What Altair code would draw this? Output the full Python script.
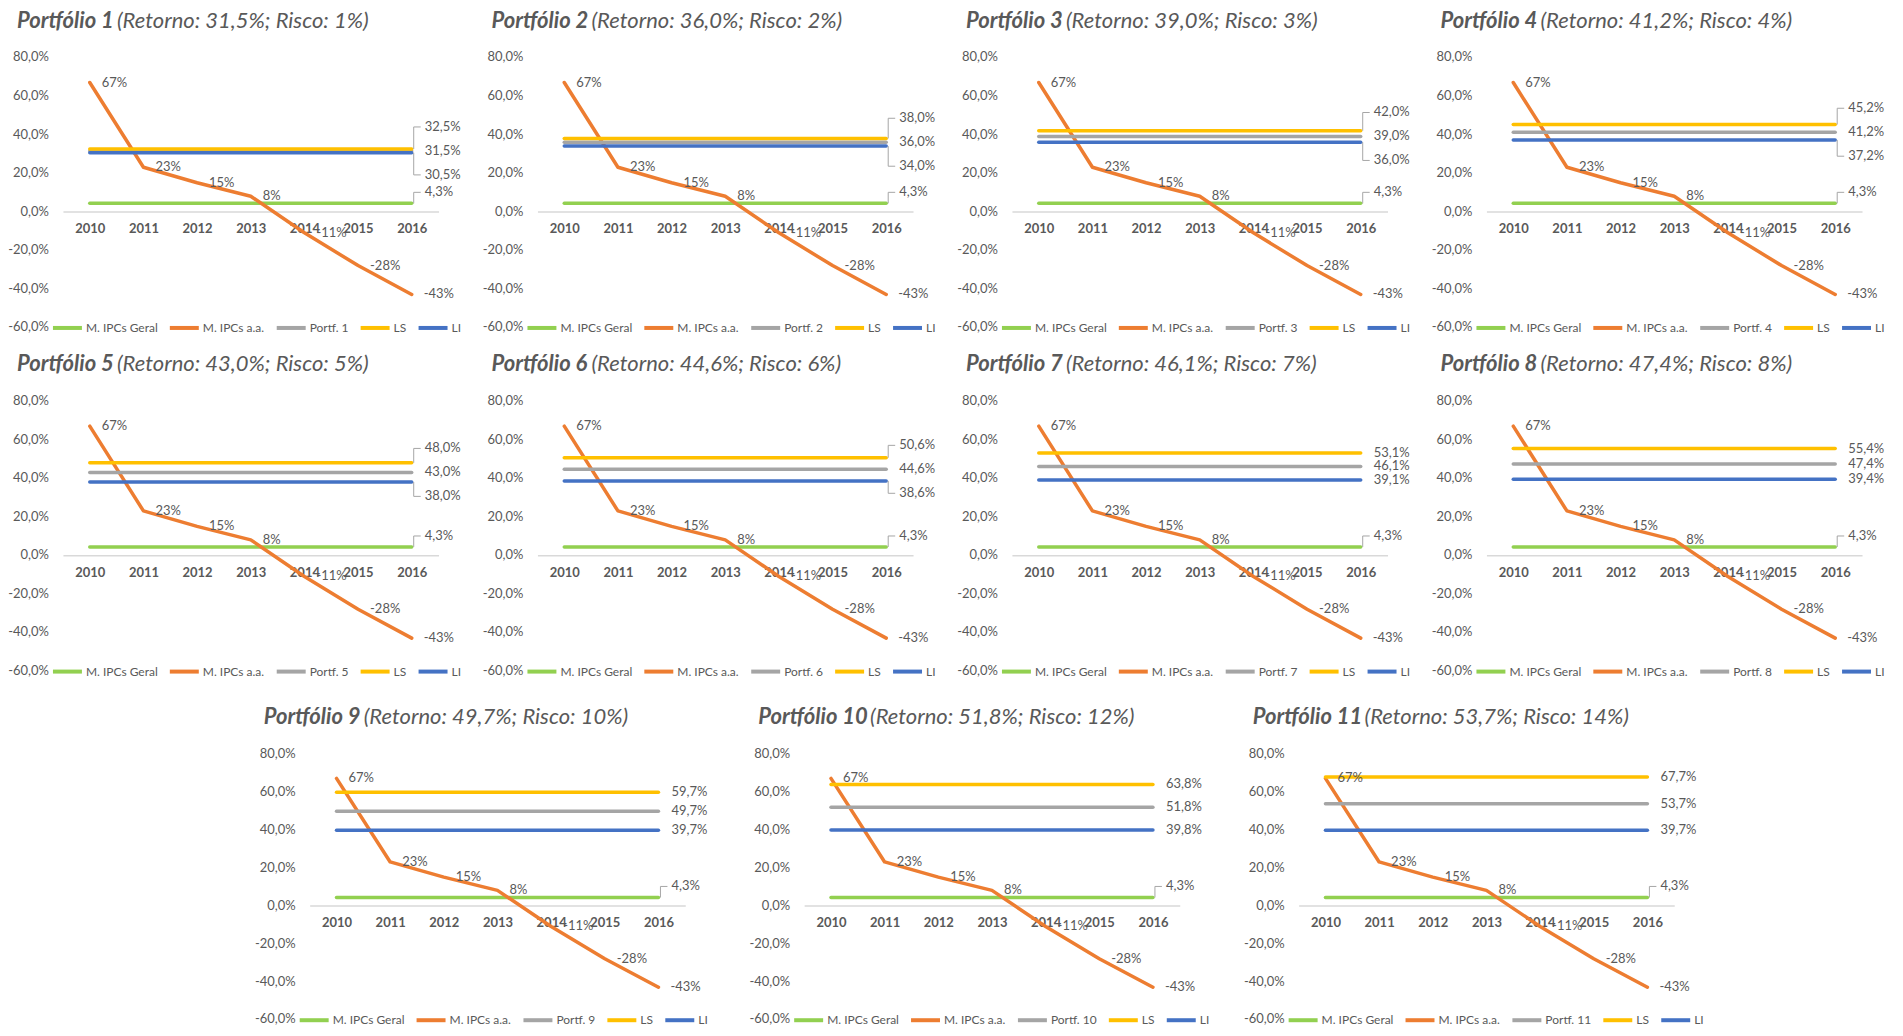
import altair as alt
import pandas as pd

# ---------------- data ----------------
years = ["2010", "2011", "2012", "2013", "2014", "2015", "2016"]
ipcs_aa = [67, 23, 15, 8, -11, -28, -43]
ipcs_geral = 4.3
portfolios = [1, 2, 3, 4, 5, 6, 7, 8, 9, 10, 11]
retornos = [31.5, 36.0, 39.0, 41.2, 43.0, 44.6, 46.1, 47.4, 49.7, 51.8, 53.7]
riscos = [1, 2, 3, 4, 5, 6, 7, 8, 10, 12, 14]
ls_vals = [32.5, 38.0, 42.0, 45.2, 48.0, 50.6, 53.1, 55.4, 59.7, 63.8, 67.7]
li_vals = [30.5, 34.0, 36.0, 37.2, 38.0, 38.6, 39.1, 39.4, 39.7, 39.8, 39.7]
y_ticks = [-60, -40, -20, 0, 20, 40, 60, 80]

# ---------------- style ----------------
COLORS = ["#92D050", "#ED7D31", "#A5A5A5", "#FFC000", "#4472C4"]
FONT = "Lato"
TXT = "#595959"
LEADER = "#A6A6A6"
W = 376
YMIN, YMAX = -60, 80
TITLE_SIZE = 22

BOLD_W = {"P": 0.61, "o": 0.57, "r": 0.39, "t": 0.37, "f": 0.33, "ó": 0.57,
          "l": 0.26, "i": 0.26, " ": 0.19}


def bold_width(s):
    return sum(BOLD_W.get(c, 0.58) for c in s) * TITLE_SIZE * 0.93


def fmt1(v):
    return f"{v:.1f}".replace(".", ",") + "%"


def panel(i, H):
    PX = H / (YMAX - YMIN)
    n = portfolios[i]
    port = f"Portf. {n}"
    names = ["M. IPCs Geral", "M. IPCs a.a.", port, "LS", "LI"]
    consts = [ipcs_geral, None, retornos[i], ls_vals[i], li_vals[i]]

    rows = []
    for k, name in enumerate(names):
        for j, y in enumerate(years):
            v = ipcs_aa[j] if k == 1 else consts[k]
            rows.append({"serie": name, "ano": y, "valor": v, "ordem": k})
    df = pd.DataFrame(rows)

    # orange data labels
    dlab = pd.DataFrame({"ano": years, "valor": ipcs_aa,
                         "texto": [f"{v}%" for v in ipcs_aa]})

    # y tick labels
    ytl = pd.DataFrame({"valor": y_ticks, "texto": [fmt1(v) for v in y_ticks]})

    # right-end labels (spread when lines are too close)
    gap_px = (ls_vals[i] - retornos[i]) * PX
    spread = 24 / PX if gap_px < 12.5 else 0.0
    rl = [
        {"valor": ipcs_geral, "ylab": ipcs_geral + 11 / PX, "texto": fmt1(ipcs_geral), "lead": True},
        {"valor": ls_vals[i], "ylab": retornos[i] + spread if spread else ls_vals[i],
         "texto": fmt1(ls_vals[i]), "lead": bool(spread)},
        {"valor": retornos[i], "ylab": retornos[i], "texto": fmt1(retornos[i]), "lead": False},
        {"valor": li_vals[i], "ylab": retornos[i] - spread if spread else li_vals[i],
         "texto": fmt1(li_vals[i]), "lead": bool(spread)},
    ]
    rlab = pd.DataFrame(rl)
    rlab["ano"] = years[-1]
    leads = rlab[rlab["lead"]].copy()

    yscale = alt.Scale(domain=[YMIN, YMAX], nice=False, zero=False)
    xenc = alt.X("ano:O", scale=alt.Scale(type="point", padding=0.5),
                 axis=alt.Axis(title=None, labelAngle=0, labelFont=FONT, labelFontWeight="bold",
                               labelFontSize=13, labelColor=TXT, ticks=False,
                               domainColor="#D9D9D9", domainWidth=1.5, labelPadding=11,
                               offset=-(0 - YMIN) * PX, grid=False))

    def Y(field):
        return alt.Y(field, scale=yscale, axis=None)

    lines = alt.Chart(df).mark_line(strokeWidth=3.5, strokeCap="round", strokeJoin="round").encode(
        x=xenc, y=Y("valor:Q"),
        color=alt.Color("serie:N", sort=names,
                        scale=alt.Scale(domain=names, range=COLORS),
                        legend=alt.Legend(orient="none", legendX=-12, legendY=H - 16,
                                          direction="horizontal", title=None,
                                          symbolType="stroke", symbolSize=841,
                                          symbolStrokeWidth=4, labelFont=FONT,
                                          labelFontSize=12, labelColor=TXT,
                                          columnPadding=4, labelOffset=2, padding=0)),
        order=alt.Order("ordem:Q"),
        detail="serie:N",
    )

    ylabels = alt.Chart(ytl).mark_text(align="right", baseline="middle", font=FONT,
                                       fontSize=13, color=TXT).encode(
        x=alt.value(-14), y=Y("valor:Q"), text="texto:N")

    olabels = alt.Chart(dlab).mark_text(align="left", baseline="middle", dx=12, font=FONT,
                                        fontSize=13, color=TXT).encode(
        x="ano:O", y=Y("valor:Q"), text="texto:N")

    rlabels = alt.Chart(rlab).mark_text(align="left", baseline="middle", dx=13, font=FONT,
                                        fontSize=13, color=TXT).encode(
        x="ano:O", y=Y("ylab:Q"), text="texto:N")

    vlead = alt.Chart(leads).mark_rule(color=LEADER, strokeWidth=1, xOffset=2).encode(
        x="ano:O", y=Y("valor:Q"), y2="ylab:Q")
    hlead = alt.Chart(leads).mark_rule(color=LEADER, strokeWidth=1, xOffset=2, x2Offset=9).encode(
        x="ano:O", x2="ano:O", y=Y("ylab:Q"))

    bold_txt = f"Portfólio {n}"
    rest_txt = f"(Retorno: {fmt1(retornos[i])}; Risco: {riscos[i]}%)"
    tb = alt.Chart(pd.DataFrame({"t": [bold_txt]})).mark_text(
        align="left", baseline="middle", font=FONT, fontSize=TITLE_SIZE, fontWeight="bold",
        fontStyle="italic", color=TXT).encode(text="t:N", x=alt.value(-46), y=alt.value(-37))
    tr = alt.Chart(pd.DataFrame({"t": [rest_txt]})).mark_text(
        align="left", baseline="middle", font=FONT, fontSize=TITLE_SIZE, fontStyle="italic",
        color=TXT).encode(text="t:N", x=alt.value(-46 + bold_width(bold_txt + " ")),
                          y=alt.value(-37))

    return alt.layer(lines, vlead, hlead, ylabels, olabels, rlabels, tb, tr).properties(
        width=W, height=H)


panels = [panel(i, 270 if i < 8 else 266) for i in range(len(portfolios))]

spacer = alt.Chart(pd.DataFrame({"t": ["."]})).mark_text(opacity=0).encode(
    text="t:N", x=alt.value(0), y=alt.value(0)).properties(width=128, height=266)


def indep(c):
    return c.resolve_scale(color="independent", x="independent", y="independent").resolve_legend(
        color="independent").resolve_axis(x="independent", y="independent")


row1 = indep(alt.hconcat(*panels[0:4], spacing=99, bounds="flush"))
row2 = indep(alt.hconcat(*panels[4:8], spacing=99, bounds="flush"))
row3 = indep(alt.hconcat(spacer, *panels[8:11], spacing=119, bounds="flush"))
top = indep(alt.vconcat(row1, row2, spacing=17))
chart = indep(alt.vconcat(top, row3, spacing=26)).properties(
    padding={"left": 0, "top": 1, "right": 10, "bottom": -2},
    background="white",
).configure_view(stroke=None)

chart.save("out.html", embed_options={"renderer": "svg", "actions": False})
